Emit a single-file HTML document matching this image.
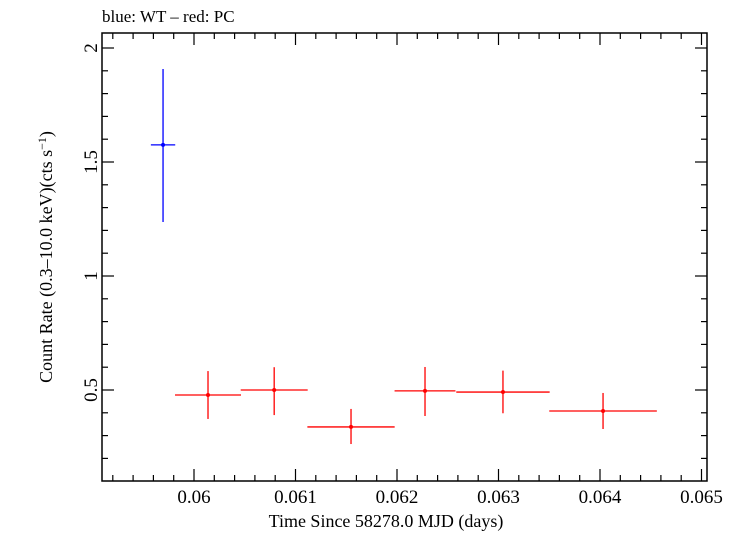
<!DOCTYPE html>
<html><head><meta charset="utf-8"><style>
body{margin:0;background:#fff;}
svg text{font-family:"Liberation Serif",serif;fill:#000;}
</style></head><body>
<svg id="c" width="739" height="532" xmlns="http://www.w3.org/2000/svg">
<text x="102" y="22" font-size="17">blue: WT – red: PC</text>
<rect x="102" y="33" width="605" height="448" fill="none" stroke="#000" stroke-width="1.5"/>
<g id="ticks"></g>
<g id="marks"></g>
<text x="386" y="527" font-size="18" text-anchor="middle">Time Since 58278.0 MJD (days)</text>
<text transform="translate(52,257) rotate(-90)" font-size="18" text-anchor="middle">Count Rate (0.3–10.0 keV)(cts s<tspan dy="-6" font-size="12">−1</tspan><tspan dy="6">)</tspan></text>
</svg>
<script>
const xTicks=[0.06,0.061,0.062,0.063,0.064,0.065];
const xTickLabels=["0.06","0.061","0.062","0.063","0.064","0.065"];
const yTicks=[0.5,1,1.5,2];
const yTickLabels=["0.5","1","1.5","2"];
const blueX=[0.059695], blueXErr=[0.00012], blueY=[1.575], blueYLo=[1.237], blueYHi=[1.908];
const redX=[0.060138,0.06079,0.061547,0.062276,0.063044,0.06403];
const redXErr=[0.000325,0.00033,0.00043,0.0003,0.00046,0.00053];
const redY=[0.478,0.5,0.338,0.496,0.491,0.408];
const redYLo=[0.373,0.39,0.263,0.386,0.398,0.329];
const redYHi=[0.583,0.6,0.417,0.601,0.585,0.487];
const L=102,R=707,T=33,B=481;
const sx=v=>194+(v-0.06)*101500;
const sy=v=>390-(v-0.5)*228;
const NS="http://www.w3.org/2000/svg";
function mk(tag,attrs,parent){const e=document.createElementNS(NS,tag);for(const k in attrs)e.setAttribute(k,attrs[k]);parent.appendChild(e);return e;}
const tg=document.getElementById('ticks'), mg=document.getElementById('marks');
for(let i=0;i<=30;i++){const v=0.0592+i*0.0002;const x=sx(v);if(x<L||x>R)continue;const major=Math.abs((v*1000)-Math.round(v*1000))<1e-6;const len=major?12:6;
 const a=mk('line',{x1:x,x2:x,y1:B,y2:B-len,stroke:'#000','stroke-width':1.2},tg);
 
 
 const b=mk('line',{x1:x,x2:x,y1:T,y2:T+len,stroke:'#000','stroke-width':1.2},tg);
 
 }
xTicks.forEach((v,i)=>{const t=mk('text',{x:sx(v),y:503,'font-size':19,'text-anchor':'middle'},tg);t.textContent=xTickLabels[i];
 
 });
for(let i=1;i<=21;i++){const v=i*0.1;const y=sy(v);if(y<T||y>B)continue;const major=Math.abs(v*2-Math.round(v*2))<1e-6;const len=major?12:6;
 const a=mk('line',{x1:L,x2:L+len,y1:y,y2:y,stroke:'#000','stroke-width':1.2},tg);
 
 
 const b=mk('line',{x1:R,x2:R-len,y1:y,y2:y,stroke:'#000','stroke-width':1.2},tg);
 
 }
yTicks.forEach((v,i)=>{const t=mk('text',{transform:`translate(97,${sy(v)}) rotate(-90)`,'font-size':19,'text-anchor':'middle'},tg);t.textContent=yTickLabels[i];
 
 });
function pts(X,XE,Y,YL,YH,col,name){X.forEach((x,i)=>{const g=mk('g',{},mg);
 
 
 mk('line',{x1:sx(x-XE[i]),x2:sx(x+XE[i]),y1:sy(Y[i]),y2:sy(Y[i]),stroke:col,'stroke-width':1.3},g);
 mk('line',{x1:sx(x),x2:sx(x),y1:sy(YL[i]),y2:sy(YH[i]),stroke:col,'stroke-width':1.3},g);
 mk('circle',{cx:sx(x),cy:sy(Y[i]),r:2,fill:col},g);});}
pts(blueX,blueXErr,blueY,blueYLo,blueYHi,'#0000ff','wt');
pts(redX,redXErr,redY,redYLo,redYHi,'#ff0000','pc');
</script>
</body></html>
